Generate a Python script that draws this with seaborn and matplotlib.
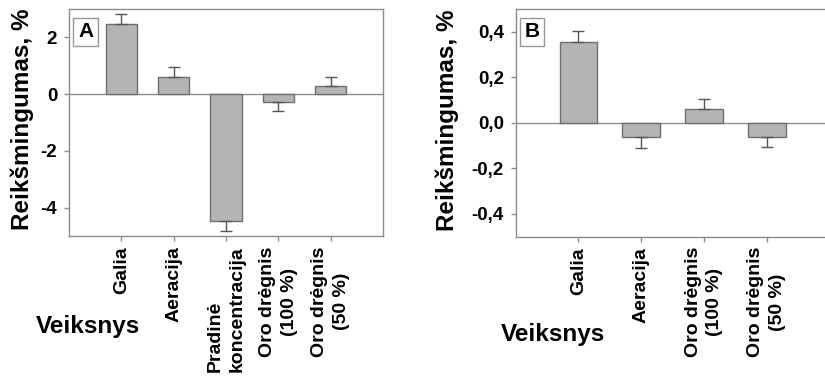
import matplotlib
matplotlib.use("Agg")
import matplotlib.pyplot as plt
import seaborn as sns
import numpy as np
import pandas as pd

# Data
cats_a = ["Galia", "Aeracija", "Pradinė\nkoncentracija", "Oro drėgnis\n(100 %)", "Oro drėgnis\n(50 %)"]
vals_a = [2.48, 0.62, -4.48, -0.27, 0.27]
errs_a = [0.36, 0.34, 0.35, 0.32, 0.32]
yticks_a = [-4, -2, 0, 2]
yticklabels_a = ["-4", "-2", "0", "2"]

cats_b = ["Galia", "Aeracija", "Oro drėgnis\n(100 %)", "Oro drėgnis\n(50 %)"]
vals_b = [0.355, -0.062, 0.063, -0.064]
errs_b = [0.047, 0.049, 0.043, 0.043]
yticks_b = [-0.4, -0.2, 0.0, 0.2, 0.4]
yticklabels_b = ["-0,4", "-0,2", "0,0", "0,2", "0,4"]

ylabel = "Reikšmingumas, %"
xlabel = "Veiksnys"

sns.set_theme(style="white")
plt.rcParams['font.family'] = ['Liberation Sans', 'DejaVu Sans']
plt.rcParams['font.weight'] = 'bold'
plt.rcParams['text.color'] = 'black'
plt.rcParams['xtick.labelcolor'] = 'black'
plt.rcParams['ytick.labelcolor'] = 'black'

BAR = "#b4b4b4"
EDGE = "#6e6e6e"
SPINE = "#8c8c8c"

fig = plt.figure(figsize=(8.25, 3.79), dpi=100)
fig.patch.set_facecolor("white")
ax_a = fig.add_axes([69/825, 1-236/379, (383-69)/825, (236-9)/379])
ax_b = fig.add_axes([515.7/825, 1-236.7/379, (829.5-515.7)/825, (236.7-9)/379])


def draw(ax, cats, vals, errs, ylim, xlim, yticks, yticklabels, tag, multialign):
    df = pd.DataFrame({"cat": cats, "val": vals})
    sns.barplot(data=df, x="cat", y="val", color=BAR, width=0.6, edgecolor=EDGE,
                linewidth=1.0, saturation=1, ax=ax, zorder=2)
    for p in ax.patches:
        p.set_facecolor(BAR)
    x = np.arange(len(cats))
    v = np.array(vals)
    e = np.array(errs)
    lower = np.where(v < 0, e, 0)
    upper = np.where(v >= 0, e, 0)
    ax.errorbar(x, v, yerr=[lower, upper], fmt="none", ecolor="#555555",
                elinewidth=1.0, capsize=4, capthick=1.0, zorder=3)
    ax.axhline(0, color=SPINE, lw=1.0, zorder=1)
    ax.set_ylim(*ylim)
    ax.set_xlim(*xlim)
    ax.set_yticks(yticks)
    ax.set_yticklabels(yticklabels, fontsize=13.5, fontweight="bold", color="black")
    ax.set_xticks(x)
    labels = ax.set_xticklabels(cats, rotation=90, fontsize=14, fontweight="bold",
                                ha="center", va="top", color="black")
    for lab, ma in zip(labels, multialign):
        lab.set_multialignment(ma)
        lab.set_linespacing(1.35)
    ax.set_xlabel("")
    ax.set_ylabel("")
    ax.tick_params(axis="both", which="both", direction="out", length=3.5, width=1,
                   color=SPINE, bottom=True, left=True)
    ax.tick_params(axis="y", pad=5)
    ax.tick_params(axis="x", pad=4)
    for s in ax.spines.values():
        s.set_color(SPINE)
        s.set_linewidth(1.0)
        s.set_visible(True)
    ax.set_facecolor("white")
    ax.text(0.053, 0.90, tag, transform=ax.transAxes, fontsize=15, fontweight="bold",
            ha="center", va="center", color="black",
            bbox=dict(boxstyle="square,pad=0.22", fc="white", ec="#999999", lw=1.0))


draw(ax_a, cats_a, vals_a, errs_a, (-5, 3), (-1, 5), yticks_a, yticklabels_a, "A",
     ["center", "center", "left", "center", "center"])
draw(ax_b, cats_b, vals_b, errs_b, (-0.5, 0.5), (-1, 4), yticks_b, yticklabels_b, "B",
     ["center", "center", "center", "center"])

fig.text(22/825, 1-119/379, ylabel, rotation=90, fontsize=17.5, fontweight="bold",
         ha="center", va="center", color="black")
fig.text(447/825, 1-120/379, ylabel, rotation=90, fontsize=17.5, fontweight="bold",
         ha="center", va="center", color="black")
fig.text(87.5/825, 1-326.7/379, xlabel, fontsize=17.5, fontweight="bold",
         ha="center", va="center", color="black")
fig.text(552.5/825, 1-335/379, xlabel, fontsize=17.5, fontweight="bold",
         ha="center", va="center", color="black")

fig.savefig("out.png", dpi=100, facecolor="white")
